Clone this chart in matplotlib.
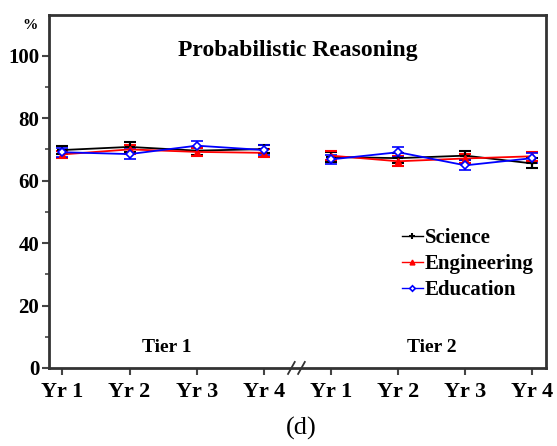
import numpy as np
import matplotlib
matplotlib.use('Agg')
import matplotlib.pyplot as plt
from matplotlib.lines import Line2D

years = ['Yr 1', 'Yr 2', 'Yr 3', 'Yr 4']
tiers = ['Tier 1', 'Tier 2']

science = [69.8, 70.8, 69.6, 70.1, 67.6, 67.2, 68.0, 65.5]
science_err = [1.3, 1.5, 1.3, 1.4, 1.6, 1.5, 1.5, 1.6]
engineering = [68.4, 70.0, 69.2, 68.9, 68.0, 66.2, 67.1, 67.8]
engineering_err = [1.2, 1.4, 1.2, 1.2, 1.5, 1.6, 1.5, 1.5]
education = [69.1, 68.5, 71.2, 69.8, 66.8, 69.1, 64.9, 67.2]
education_err = [1.5, 1.6, 1.6, 1.5, 1.4, 1.6, 1.6, 1.7]

plt.rcParams['font.family'] = ['Liberation Serif', 'DejaVu Serif']

fig = plt.figure(figsize=(5.57, 4.46), dpi=100)
ax = fig.add_axes([0.088, 0.175, 0.892, 0.791])

x = np.arange(8)
series = [
    ('Science', science, science_err, 'black', dict(marker='+', ms=7, mew=1.5)),
    ('Engineering', engineering, engineering_err, 'red', dict(marker='^', ms=5, mfc='red')),
    ('Education', education, education_err, 'blue', dict(marker='D', ms=4, mfc='white', mew=1.2)),
]
handles = []
for name, vals, err, col, mk in series:
    vals = np.array(vals)
    err = np.array(err)
    for seg in (slice(0, 4), slice(4, 8)):
        ax.errorbar(x[seg], vals[seg], yerr=err[seg], color=col, lw=1.3,
                    capsize=4, capthick=1.5, elinewidth=1.5, mec=col, **mk)
    lmk = dict(mk)
    lmk['ms'] = mk['ms'] * 0.7
    handles.append(Line2D([], [], color=col, lw=1.0, mec=col, label=name, **lmk))

ax.set_xlim(-0.2, 7.2)
ax.set_ylim(0, 113)
ax.set_yticks([0, 20, 40, 60, 80, 100])
ax.set_yticks([10, 30, 50, 70, 90], minor=True)
ax.set_xticks(x)
ax.set_xticklabels(years + years, fontweight='bold', fontsize=16)
ax.set_yticklabels([0, 20, 40, 60, 80, 100], fontweight='bold', fontsize=15)
ax.tick_params(axis='both', which='major', direction='out', length=5, width=1.5, color='#444444', pad=2)
ax.tick_params(axis='x', which='major', pad=5)
ax.tick_params(axis='y', which='minor', direction='out', length=3, width=1.2, color='#444444')
for s in ax.spines.values():
    s.set_linewidth(2)
    s.set_color('#333333')

ax.text(0.5, 0.93, 'Probabilistic Reasoning', transform=ax.transAxes, ha='center',
        va='top', fontsize=17, fontweight='bold')
ax.text(-0.038, 0.97, '%', transform=ax.transAxes, ha='center', va='center',
        fontsize=11, fontweight='bold')
ax.text(1.55, 6.5, tiers[0], ha='center', va='center', fontsize=14, fontweight='bold')
ax.text(5.5, 6.5, tiers[1], ha='center', va='center', fontsize=14, fontweight='bold')

# axis break marks
trans = ax.get_xaxis_transform()
for dx in (-0.06, 0.09):
    ax.plot([3.42 + dx, 3.52 + dx], [-0.017, 0.017], color='#333333', lw=1.3,
            transform=trans, clip_on=False)

leg = ax.legend(handles=handles, loc='lower right', bbox_to_anchor=(1.005, 0.15), frameon=False,
                prop={'weight': 'bold', 'size': 15}, handlelength=1.0,
                handletextpad=0.1, labelspacing=0.3, borderaxespad=0.3)

fig.text(0.54, 0.04, '(d)', ha='center', va='center', fontsize=19)

fig.savefig('out.png', dpi=100)
